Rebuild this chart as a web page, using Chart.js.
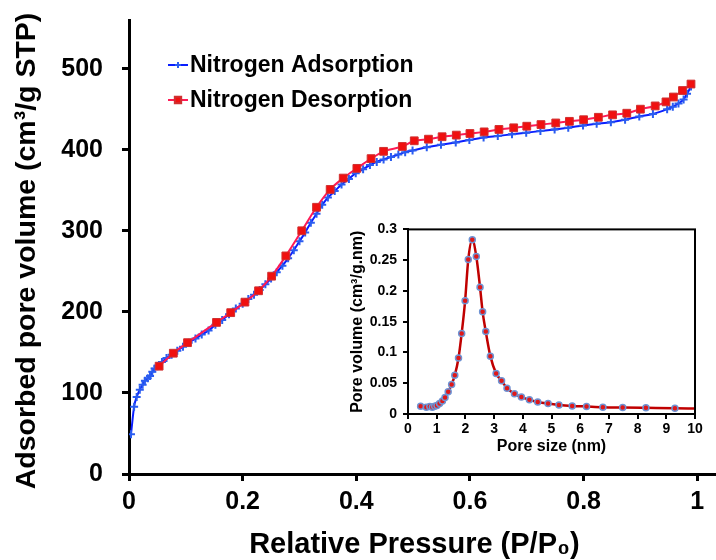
<!DOCTYPE html>
<html>
<head>
<meta charset="utf-8">
<script src="https://cdn.jsdelivr.net/npm/chart.js@4.4.1/dist/chart.umd.min.js"></script>
<style>
  body { margin: 0; background: #fff; }
  #wrap { position: relative; width: 716px; height: 560px; }
  #inset { position: absolute; left: 340px; top: 215px; }
</style>
</head>
<body>
<div id="wrap">
  <canvas id="main" width="716" height="560"></canvas>
  <canvas id="inset" width="370" height="245"></canvas>
</div>
<script>
// isotherm: adsorption branch
const adsP = [0.0035, 0.009, 0.0135, 0.019, 0.024, 0.028, 0.033, 0.037, 0.041, 0.045, 0.050, 0.058,
  0.066, 0.075, 0.085, 0.095, 0.105, 0.117, 0.128, 0.14, 0.152, 0.164, 0.176, 0.188, 0.2, 0.21,
  0.22, 0.23, 0.24, 0.25, 0.26, 0.27, 0.28, 0.29, 0.30, 0.31, 0.32, 0.33, 0.34, 0.35, 0.362, 0.374,
  0.387, 0.399, 0.412, 0.424, 0.436, 0.448, 0.461, 0.474, 0.486, 0.499, 0.524, 0.549, 0.575, 0.599,
  0.624, 0.649, 0.674, 0.699, 0.724, 0.749, 0.773, 0.799, 0.823, 0.848, 0.873, 0.898, 0.922, 0.947,
  0.957, 0.967, 0.976, 0.982, 0.989];
const adsV = [49, 83, 95, 104, 110, 115, 118, 121, 126, 130, 133, 138,
  143, 147, 152, 157, 162, 167, 172, 177, 184, 190, 197, 204, 210, 216,
  221, 227, 234, 241, 249, 257, 266, 276, 287, 298, 310, 321, 332, 341, 349, 357,
  364, 371, 376, 381, 385, 388, 391, 394, 397, 399, 403, 406, 409, 412,
  415, 417, 419, 421, 423, 425, 427, 430, 432, 434, 437, 441, 444, 450,
  453, 457, 462, 469, 478];

// isotherm: desorption branch
const desP = [0.053, 0.078, 0.103, 0.154, 0.179, 0.204, 0.228, 0.251, 0.276, 0.304, 0.330, 0.354,
  0.377, 0.401, 0.426, 0.448, 0.481, 0.502, 0.527, 0.551, 0.576, 0.600, 0.625, 0.651, 0.677, 0.700,
  0.725, 0.751, 0.775, 0.800, 0.826, 0.851, 0.876, 0.900, 0.926, 0.945, 0.958, 0.974, 0.989];
const desV = [133, 149, 162, 187, 199, 212, 226, 244, 269, 300, 329, 351,
  365, 377, 389, 398, 404, 411, 413, 416, 418, 420, 422, 425, 427, 429,
  431, 433, 435, 437, 440, 443, 445, 450, 454, 459, 465, 473, 481];

// inset: pore size distribution
const poreSize = [0.44, 0.64, 0.76, 0.85, 0.93, 1.01, 1.10, 1.20, 1.29, 1.40, 1.52, 1.63, 1.76, 1.87,
  1.99, 2.10, 2.24, 2.38, 2.51, 2.60, 2.71, 2.87, 3.07, 3.26, 3.45, 3.71, 3.95, 4.23, 4.52, 4.88,
  5.26, 5.72, 6.22, 6.79, 7.48, 8.29, 9.30, 10.0];
const poreVol = [0.0127, 0.011, 0.012, 0.011, 0.0127, 0.014, 0.017, 0.021, 0.027, 0.036, 0.048, 0.063, 0.091, 0.131,
  0.184, 0.251, 0.283, 0.256, 0.206, 0.166, 0.134, 0.094, 0.066, 0.054, 0.042, 0.033, 0.0275, 0.023, 0.0196, 0.0169,
  0.0148, 0.0132, 0.0122, 0.0111, 0.0106, 0.0101, 0.0095, 0.0088];

const xTicks = [0, 0.2, 0.4, 0.6, 0.8, 1];
const yTicks = [0, 100, 200, 300, 400, 500];
const insetXTicks = [0, 1, 2, 3, 4, 5, 6, 7, 8, 9, 10];
const insetYTicks = [0, 0.05, 0.1, 0.15, 0.2, 0.25, 0.3];

const FAM = "'Liberation Sans', Arial, sans-serif";
const bold = size => ({ family: FAM, size: size, weight: 'bold' });
const pts = (xs, ys) => xs.map((x, i) => ({ x: x, y: ys[i] }));

// legend drawn inside the plot, top left
const legendPlugin = {
  id: 'innerLegend',
  afterDraw(chart) {
    const ctx = chart.ctx;
    const rows = [
      { y: 65, ds: chart.data.datasets[0] },
      { y: 100, ds: chart.data.datasets[1] }
    ];
    ctx.save();
    rows.forEach(r => {
      ctx.strokeStyle = r.ds.borderColor;
      ctx.lineWidth = 2;
      ctx.beginPath();
      ctx.moveTo(168, r.y); ctx.lineTo(188, r.y);
      ctx.stroke();
      ctx.fillStyle = r.ds.pointBackgroundColor;
      ctx.strokeStyle = r.ds.pointBorderColor;
      Chart.helpers.drawPoint(ctx, {
        pointStyle: r.ds.pointStyle, radius: r.ds.pointRadius - 1,
        borderWidth: r.ds.pointBorderWidth, rotation: 0
      }, 178, r.y);
      ctx.fillStyle = '#000';
      ctx.font = "bold 23px " + FAM;
      ctx.textBaseline = 'middle';
      ctx.fillText(r.ds.label, 190, r.y + 1);
    });
    ctx.restore();
  }
};

new Chart(document.getElementById('main'), {
  type: 'line',
  data: {
    datasets: [{
      label: 'Nitrogen Adsorption',
      data: pts(adsP, adsV),
      borderColor: '#0a1eff',
      borderWidth: 2,
      pointStyle: 'cross',
      pointRadius: 4,
      pointBorderWidth: 2,
      pointBorderColor: '#2a5cf0',
      pointBackgroundColor: '#2a5cf0',
      cubicInterpolationMode: 'monotone',
      order: 2
    }, {
      label: 'Nitrogen Desorption',
      data: pts(desP, desV),
      borderColor: '#ff1a55',
      borderWidth: 2,
      pointStyle: 'rect',
      pointRadius: 5.5,
      pointBorderWidth: 1,
      pointBorderColor: '#d03030',
      pointBackgroundColor: '#f01010',
      cubicInterpolationMode: 'monotone',
      order: 1
    }]
  },
  options: {
    responsive: false,
    devicePixelRatio: 1,
    animation: false,
    layout: { autoPadding: false, padding: { top: 20, right: 0, left: 0, bottom: 0 } },
    plugins: { legend: { display: false }, tooltip: { enabled: false } },
    scales: {
      x: {
        type: 'linear', min: 0, max: 1.033,
        afterBuildTicks: s => { s.ticks = xTicks.map(v => ({ value: v })); },
        afterFit: s => { s.height = 86; s.paddingLeft = 0; s.paddingRight = 0; },
        grid: { drawOnChartArea: false, color: '#000', lineWidth: 3, tickLength: 7 },
        border: { color: '#000', width: 3 },
        ticks: { color: '#000', font: bold(25), padding: 6, autoSkip: false, maxRotation: 0, callback: v => String(v) },
        title: { display: true, text: 'Relative Pressure (P/P\u2080)  ', color: '#000', font: bold(29), padding: { top: 0, bottom: -2 } }
      },
      y: {
        type: 'linear', min: 0, max: 560,
        afterBuildTicks: s => { s.ticks = yTicks.map(v => ({ value: v })); },
        afterFit: s => { s.width = 129; s.paddingTop = 0; s.paddingBottom = 0; },
        grid: { drawOnChartArea: false, color: '#000', lineWidth: 3, tickLength: 7 },
        border: { color: '#000', width: 3 },
        ticks: { color: '#000', font: bold(25), padding: 19, autoSkip: false, callback: v => String(v) },
        title: { display: true, text: 'Adsorbed pore volume (cm\u00b3/g STP) ', color: '#000', font: bold(28.5), padding: { top: 10, bottom: 0 } }
      }
    }
  },
  plugins: [legendPlugin]
});

// frame around the inset plot area
const boxPlugin = {
  id: 'box',
  afterDraw(chart) {
    const { ctx, chartArea: a } = chart;
    ctx.save();
    ctx.strokeStyle = '#000';
    ctx.lineWidth = 2;
    ctx.strokeRect(a.left, a.top, a.right - a.left, a.bottom - a.top);
    ctx.restore();
  }
};

const lastIdx = poreSize.length - 1;
new Chart(document.getElementById('inset'), {
  type: 'line',
  data: {
    datasets: [{
      label: 'PSD',
      data: pts(poreSize, poreVol),
      borderColor: '#c00000',
      borderWidth: 2.5,
      pointStyle: 'circle',
      pointRadius: c => c.dataIndex === lastIdx ? 0 : 3,
      pointBorderWidth: 1.5,
      pointBorderColor: '#6f93d3',
      pointBackgroundColor: '#e01818',
      cubicInterpolationMode: 'monotone'
    }]
  },
  options: {
    responsive: false,
    devicePixelRatio: 1,
    animation: false,
    layout: { padding: { top: 10, right: 15, left: 0, bottom: 0 } },
    plugins: { legend: { display: false }, tooltip: { enabled: false } },
    scales: {
      x: {
        type: 'linear', min: 0, max: 10,
        afterBuildTicks: s => { s.ticks = insetXTicks.map(v => ({ value: v })); },
        afterFit: s => { s.height = 46; },
        grid: { drawOnChartArea: false, color: '#000', lineWidth: 2, tickLength: 5 },
        border: { color: '#000', width: 2 },
        ticks: { color: '#000', font: bold(14), padding: 2, autoSkip: false, maxRotation: 0, callback: v => String(v) },
        title: { display: true, text: 'Pore size (nm)', color: '#000', font: bold(16), padding: { top: 0, bottom: 4 } }
      },
      y: {
        type: 'linear', min: 0, max: 0.3,
        afterBuildTicks: s => { s.ticks = insetYTicks.map(v => ({ value: v })); },
        afterFit: s => { s.width = 68; },
        grid: { drawOnChartArea: false, color: '#000', lineWidth: 2, tickLength: 5 },
        border: { color: '#000', width: 2 },
        ticks: { color: '#000', font: bold(14), padding: 6, autoSkip: false, callback: v => String(v) },
        title: { display: true, text: 'Pore volume (cm\u00b3/g.nm)', color: '#000', font: bold(16), padding: { top: 8, bottom: 0 } }
      }
    }
  },
  plugins: [boxPlugin]
});
</script>
</body>
</html>
